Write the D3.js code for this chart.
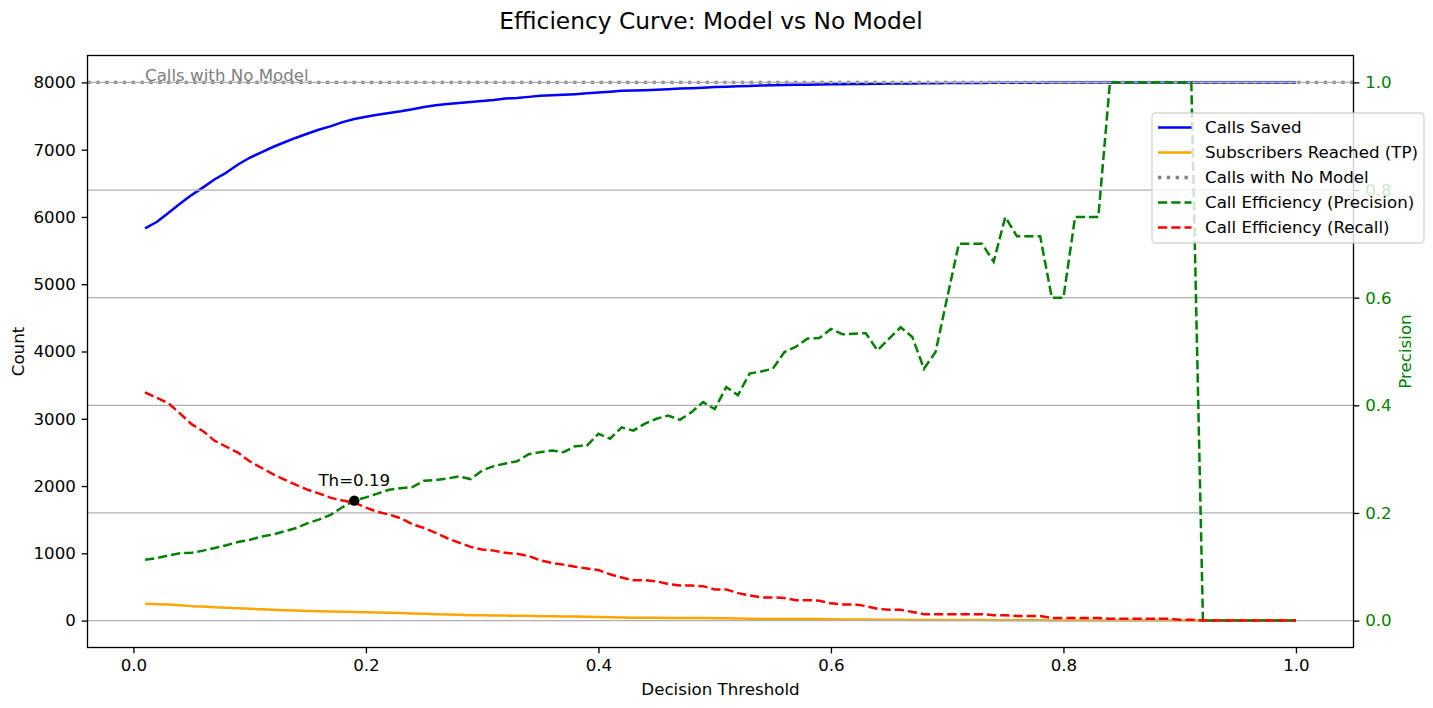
<!DOCTYPE html>
<html><head><meta charset="utf-8">
<script src="https://cdn.jsdelivr.net/npm/d3@7"></script>
<style>
body{margin:0;background:#fff}
svg{display:block}
text{font-family:"DejaVu Sans",sans-serif}
</style>
</head><body><svg id="c" width="1433" height="708"></svg>
<script>
// ---------------- data ----------------
const thresholds = [0.01,0.02,0.03,0.04,0.05,0.06,0.07,0.08,0.09,0.10,
  0.11,0.12,0.13,0.14,0.15,0.16,0.17,0.18,0.19,0.20,
  0.21,0.22,0.23,0.24,0.25,0.26,0.27,0.28,0.29,0.30,
  0.31,0.32,0.33,0.34,0.35,0.36,0.37,0.38,0.39,0.40,
  0.41,0.42,0.43,0.44,0.45,0.46,0.47,0.48,0.49,0.50,
  0.51,0.52,0.53,0.54,0.55,0.56,0.57,0.58,0.59,0.60,
  0.61,0.62,0.63,0.64,0.65,0.66,0.67,0.68,0.69,0.70,
  0.71,0.72,0.73,0.74,0.75,0.76,0.77,0.78,0.79,0.80,
  0.81,0.82,0.83,0.84,0.85,0.86,0.87,0.88,0.89,0.90,
  0.91,0.92,0.93,0.94,0.95,0.96,0.97,0.98,0.99,1.00];

const callsSaved = [5830,5925,6060,6195,6325,6440,6560,6660,6780,6880,
  6960,7040,7110,7178,7240,7300,7350,7410,7455,7490,
  7520,7545,7570,7600,7635,7660,7680,7695,7710,7725,
  7740,7760,7770,7785,7800,7808,7815,7825,7838,7850,
  7862,7875,7880,7885,7892,7900,7908,7915,7922,7930,
  7936,7942,7948,7953,7957,7961,7964,7967,7970,7972,
  7974,7976,7978,7980,7982,7984,7985,7987,7988,7990,
  7991,7992,7993,7994,7995,7995,7996,7996,7997,7997,
  7998,7998,7998,7999,7999,7999,7999,8000,8000,8000,
  8000,8000,8000,8000,8000,8000,8000,8000,8000,8000];

const subscribersReached = [250,244,238,227,215,208,197,191,184,175,
  168,160,155,149,143,139,135,132,129,124,
  119,116,112,106,101,96,90,86,81,78,
  77,74,73,71,66,63,61,59,57,55,
  51,47,44,44,43,40,38,38,38,34,
  34,30,28,25,25,25,22,22,22,19,
  18,18,16,13,12,12,9,7,7,7,
  7,7,7,6,6,5,5,5,3,3,
  3,3,3,2,2,2,2,2,2,1,
  1,0,0,0,0,0,0,0,0,0];

const callsNoModel = 8000;

const precision = [0.113,0.116,0.121,0.125,0.126,0.130,0.135,0.140,0.146,0.150,
  0.156,0.160,0.166,0.172,0.181,0.188,0.197,0.211,0.223,0.229,
  0.236,0.243,0.246,0.248,0.260,0.261,0.264,0.268,0.263,0.279,
  0.287,0.292,0.296,0.309,0.313,0.316,0.313,0.324,0.325,0.347,
  0.338,0.359,0.353,0.366,0.375,0.381,0.373,0.387,0.406,0.393,
  0.434,0.419,0.459,0.463,0.468,0.499,0.509,0.524,0.525,0.542,
  0.532,0.533,0.534,0.502,0.524,0.545,0.527,0.468,0.499,0.600,
  0.700,0.700,0.700,0.667,0.750,0.714,0.714,0.714,0.600,0.600,
  0.750,0.750,0.750,1,1,1,1,1,1,1,
  1,0,0,0,0,0,0,0,0,0];

const recall = [0.424,0.414,0.404,0.385,0.365,0.352,0.334,0.323,0.312,0.296,
  0.284,0.272,0.262,0.252,0.243,0.236,0.228,0.223,0.219,0.210,
  0.202,0.197,0.190,0.179,0.172,0.163,0.153,0.145,0.137,0.132,
  0.130,0.126,0.124,0.120,0.112,0.107,0.104,0.100,0.097,0.094,
  0.086,0.080,0.075,0.075,0.073,0.068,0.065,0.065,0.064,0.058,
  0.058,0.051,0.047,0.043,0.043,0.042,0.038,0.038,0.037,0.032,
  0.030,0.030,0.027,0.022,0.020,0.020,0.016,0.012,0.012,0.012,
  0.012,0.012,0.012,0.010,0.010,0.0085,0.0085,0.0085,0.005,0.005,
  0.005,0.005,0.005,0.0034,0.0034,0.0034,0.0034,0.0034,0.0034,0.0017,
  0.0017,0,0,0,0,0,0,0,0,0];

const bestThreshold = 0.19;
const bestPrecision = 0.223;

const xTicks = [0.0,0.2,0.4,0.6,0.8,1.0];
const leftTicks = [0,1000,2000,3000,4000,5000,6000,7000,8000];
const rightTicks = [0.0,0.2,0.4,0.6,0.8,1.0];

const legendItems = [
  {label:"Calls Saved", color:"blue", dash:null, width:2.5},
  {label:"Subscribers Reached (TP)", color:"orange", dash:null, width:2.5},
  {label:"Calls with No Model", color:"gray", dash:"3.33,5.5", width:3.33},
  {label:"Call Efficiency (Precision)", color:"green", dash:"9.25,4", width:2.5},
  {label:"Call Efficiency (Recall)", color:"red", dash:"9.25,4", width:2.5}
];

// ---------------- layout ----------------
const W = 1433, H = 708;
const m = {l:87.5, r:1353.5, t:55.5, b:647.5};
const FS = 16.67;
const x = d3.scaleLinear().domain([-0.0395, 1.0495]).range([m.l, m.r]);
const yL = d3.scaleLinear().domain([-400, 8400]).range([m.b, m.t]);
const yR = d3.scaleLinear().domain([-0.05, 1.05]).range([m.b, m.t]);

const svg = d3.select("#c");
svg.append("rect").attr("width", W).attr("height", H).attr("fill", "#fff");

svg.append("defs").append("clipPath").attr("id","pa")
  .append("rect").attr("x", m.l).attr("y", m.t).attr("width", m.r-m.l).attr("height", m.b-m.t);

const idx = d3.range(thresholds.length);

// ----- ax1 content -----
const g1 = svg.append("g").attr("clip-path","url(#pa)");
const lineL = arr => d3.line().x(i => x(thresholds[i])).y(i => yL(arr[i]))(idx);
const lineR = arr => d3.line().x(i => x(thresholds[i])).y(i => yR(arr[i]))(idx);

g1.append("path").attr("d", lineL(callsSaved)).attr("fill","none")
  .attr("stroke","blue").attr("stroke-width",2.5).attr("stroke-linejoin","round");
g1.append("path").attr("d", lineL(subscribersReached)).attr("fill","none")
  .attr("stroke","orange").attr("stroke-width",2.5).attr("stroke-linejoin","round");
g1.append("line").attr("x1", m.l).attr("x2", m.r)
  .attr("y1", yL(callsNoModel)).attr("y2", yL(callsNoModel))
  .attr("stroke","gray").attr("stroke-width",3.33).attr("stroke-dasharray","3.33,5.5");
svg.append("text").attr("x", x(thresholds[0])).attr("y", yL(callsNoModel) - 1)
  .attr("font-size", FS).attr("fill","gray").text("Calls with No Model");

// ----- ax2 grid -----
const g2 = svg.append("g");
g2.selectAll("line.grid").data(rightTicks).join("line").attr("class","grid")
  .attr("x1", m.l).attr("x2", m.r).attr("y1", d => yR(d)).attr("y2", d => yR(d))
  .attr("stroke","#b0b0b0").attr("stroke-width",1.33);

const g3 = svg.append("g").attr("clip-path","url(#pa)");
g3.append("path").attr("d", lineR(precision)).attr("fill","none")
  .attr("stroke","green").attr("stroke-width",2.5).attr("stroke-dasharray","9.25,4");
g3.append("path").attr("d", lineR(recall)).attr("fill","none")
  .attr("stroke","red").attr("stroke-width",2.5).attr("stroke-dasharray","9.25,4");

svg.append("circle").attr("cx", x(bestThreshold)).attr("cy", yR(bestPrecision))
  .attr("r", 5.2).attr("fill","black");
svg.append("text").attr("x", x(bestThreshold)).attr("y", yR(bestPrecision) - 15)
  .attr("text-anchor","middle").attr("font-size", FS).attr("fill","#000")
  .text("Th=" + bestThreshold);

// ----- axes -----
function styleAxis(g){
  g.select(".domain").remove();
  g.selectAll(".tick line").attr("stroke","#000").attr("stroke-width",1.33);
  g.selectAll(".tick text").attr("font-size", FS).attr("font-family","DejaVu Sans");
}
const ax = svg.append("g").attr("transform",`translate(0,${m.b})`)
  .call(d3.axisBottom(x).tickValues(xTicks).tickFormat(d3.format(".1f")).tickSize(5.83).tickPadding(5.83));
styleAxis(ax);
ax.selectAll(".tick text").attr("fill","#000");

const ayl = svg.append("g").attr("transform",`translate(${m.l},0)`)
  .call(d3.axisLeft(yL).tickValues(leftTicks).tickFormat(d3.format("d")).tickSize(5.83).tickPadding(5.83));
styleAxis(ayl);
ayl.selectAll(".tick text").attr("fill","#000");

const ayr = svg.append("g").attr("transform",`translate(${m.r},0)`)
  .call(d3.axisRight(yR).tickValues(rightTicks).tickFormat(d3.format(".1f")).tickSize(5.83).tickPadding(5.83));
styleAxis(ayr);
ayr.selectAll(".tick text").attr("fill","green");

// spines
svg.append("rect").attr("x", m.l).attr("y", m.t).attr("width", m.r-m.l).attr("height", m.b-m.t)
  .attr("fill","none").attr("stroke","#000").attr("stroke-width",1.33);

// labels
svg.append("text").attr("x", 711).attr("y", 29).attr("text-anchor","middle")
  .attr("font-size", 23.3).attr("fill","#000").text("Efficiency Curve: Model vs No Model");
svg.append("text").attr("x", (m.l+m.r)/2).attr("y", 695).attr("text-anchor","middle")
  .attr("font-size", FS).attr("fill","#000").text("Decision Threshold");
svg.append("text").attr("transform",`translate(24,${(m.t+m.b)/2}) rotate(-90)`)
  .attr("text-anchor","middle").attr("font-size", FS).attr("fill","#000").text("Count");
svg.append("text").attr("transform",`translate(1411,${(m.t+m.b)/2}) rotate(-90)`)
  .attr("text-anchor","middle").attr("font-size", FS).attr("fill","green").text("Precision");

// legend
const lg = svg.append("g");
lg.append("rect").attr("x",1152).attr("y",113).attr("width",272).attr("height",130)
  .attr("rx",3.5).attr("fill","#fff").attr("fill-opacity",0.8)
  .attr("stroke","#cccccc").attr("stroke-opacity",0.8).attr("stroke-width",1.33);
legendItems.forEach((d,i) => {
  const yy = 127.5 + i*25;
  lg.append("line").attr("x1",1158).attr("x2",1191.5).attr("y1",yy).attr("y2",yy)
    .attr("stroke",d.color).attr("stroke-width",d.width)
    .attr("stroke-dasharray", d.dash);
  lg.append("text").attr("x",1205).attr("y",yy).attr("dy","0.35em")
    .attr("font-size",FS).attr("fill","#000").text(d.label);
});
</script>
</body></html>
